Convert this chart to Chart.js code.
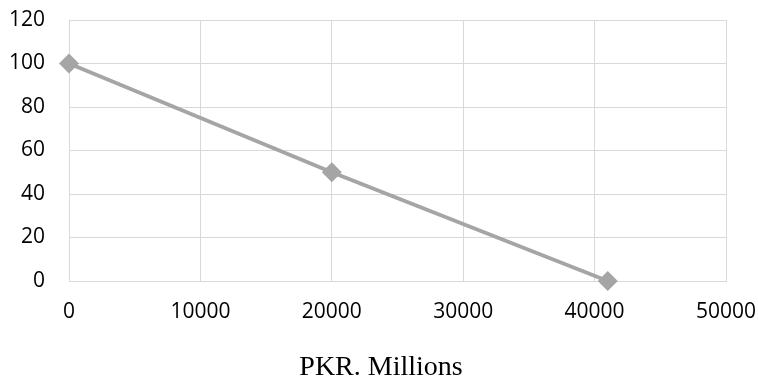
<!DOCTYPE html>
<html>
<head>
<meta charset="utf-8">
<script src="https://cdn.jsdelivr.net/npm/chart.js@4/dist/chart.umd.min.js"></script>
<style>
  html, body { margin: 0; padding: 0; background: #ffffff; }
  #wrap { width: 758px; height: 378px; }
</style>
</head>
<body>
<div id="wrap"><canvas id="c" width="758" height="378"></canvas></div>
<script>
// Cost (PKR millions) against percentage
const xValues = [0, 20000, 41000];
const yValues = [100, 50, 0];
const xTickLabels = ['0', '10000', '20000', '30000', '40000', '50000'];
const yTickLabels = ['0', '20', '40', '60', '80', '100', '120'];
const xAxisTitle = 'PKR. Millions';

const points = xValues.map((x, i) => ({ x: x, y: yValues[i] }));
const gridColor = '#d9d9d9';
const tickFont = { family: '"Open Sans", sans-serif', size: 21 };

// Axis caption centred on the whole canvas, below the tick labels
const captionPlugin = {
  id: 'caption',
  afterDraw(chart) {
    const ctx = chart.ctx;
    ctx.save();
    ctx.font = '28px "Liberation Serif", serif';
    ctx.fillStyle = '#000000';
    ctx.textAlign = 'center';
    ctx.textBaseline = 'alphabetic';
    ctx.fillText(xAxisTitle, chart.width / 2 + 2, 375);
    ctx.restore();
  }
};

new Chart(document.getElementById('c'), {
  type: 'scatter',
  data: {
    datasets: [{
      data: points,
      showLine: true,
      clip: false,
      borderColor: '#a5a5a5',
      backgroundColor: '#a5a5a5',
      borderWidth: 4,
      pointStyle: 'rectRot',
      pointRadius: 10,
      pointBorderWidth: 0,
      pointBackgroundColor: '#a5a5a5'
    }]
  },
  options: {
    responsive: false,
    animation: false,
    layout: { padding: { left: 0, right: 32, top: 20, bottom: 0 } },
    plugins: { legend: { display: false }, tooltip: { enabled: false } },
    scales: {
      x: {
        type: 'linear',
        min: 0,
        max: 50000,
        afterBuildTicks: (s) => { s.ticks = xTickLabels.map(v => ({ value: Number(v) })); },
        afterFit: (s) => { s.height = 97; s.paddingLeft = 0; s.paddingRight = 0; },
        grid: { color: gridColor, lineWidth: 1, drawTicks: false },
        border: { color: gridColor },
        ticks: { color: '#000000', font: tickFont, padding: 18, maxRotation: 0,
                 callback: (v) => String(v) }
      },
      y: {
        type: 'linear',
        min: 0,
        max: 120,
        afterBuildTicks: (s) => { s.ticks = yTickLabels.map(v => ({ value: Number(v) })); },
        afterFit: (s) => { s.width = 69; s.paddingTop = 0; s.paddingBottom = 0; },
        grid: { color: gridColor, lineWidth: 1, drawTicks: false },
        border: { color: gridColor },
        ticks: { color: '#000000', font: tickFont, padding: 24,
                 callback: (v) => String(v) }
      }
    }
  },
  plugins: [captionPlugin]
});
</script>
</body>
</html>
